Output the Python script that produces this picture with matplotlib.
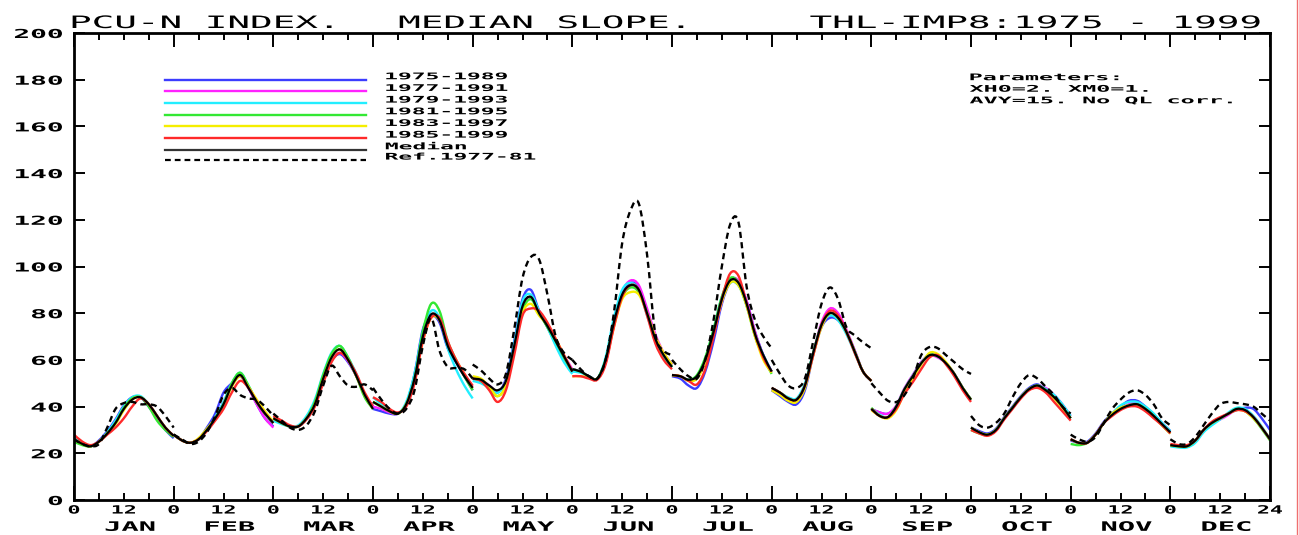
import numpy as np
import matplotlib
matplotlib.use("Agg")
import matplotlib.pyplot as plt
import matplotlib.patheffects as pe
from matplotlib.transforms import Affine2D
from matplotlib.lines import Line2D
from matplotlib.path import Path
from matplotlib.patches import PathPatch

# ---------------- data ----------------
MONTHS = ["JAN", "FEB", "MAR", "APR", "MAY", "JUN",
          "JUL", "AUG", "SEP", "OCT", "NOV", "DEC"]
HOURS = [0, 2, 4, 6, 8, 10, 12, 14, 16, 18, 20, 22, 24]

SERIES_LABELS = ["1975-1989", "1977-1991", "1979-1993", "1981-1995",
                 "1983-1997", "1985-1999"]
SERIES_COLORS = ["#3c3cff", "#ff22ff", "#22eeff", "#33e833", "#f5ee00", "#ff2a2a"]

S1975 = [
    [26, 24, 23, 25.5, 29.5, 34.5, 40.5, 44, 44, 40, 35, 30, 26.5],
    [28, 25.5, 24.5, 26, 31, 37, 46, 50, 53, 48, 41, 35, 31.5],
    [35, 33, 31.5, 31.5, 35, 41, 51, 59.5, 62.5, 59, 53, 45, 40],
    [39, 38, 37, 37, 41, 54, 73, 79, 76, 65, 59, 53, 47],
    [52, 51, 49, 46, 52, 68, 86, 90, 81, 74, 67, 61, 55],
    [56, 55, 53, 52, 59, 75, 88, 93, 91, 81, 70, 62, 58],
    [53, 52, 49, 48, 55, 68, 84, 93, 92, 85, 72, 62, 55],
    [47, 44.5, 42, 41, 47, 62, 74, 78, 77, 72, 64, 55, 51],
    [39, 37.5, 37, 40, 47.5, 53.5, 59, 62, 61.5, 58.5, 54, 48, 43],
    [31, 29.5, 28.5, 30.5, 35.5, 40, 44.5, 48, 49.5, 47, 44, 40, 35],
    [25.5, 24.5, 25, 28.5, 33.5, 37, 40, 42.5, 42.5, 40, 36.5, 33, 29.5],
    [23.5, 23, 23, 25.5, 30, 33, 35, 37, 38.5, 39.5, 39, 35, 30],
]
S1977 = [
    [26, 24, 23, 25, 28.5, 33.5, 39.5, 43.5, 44, 41, 36, 31, 27.5],
    [28, 25.5, 24.5, 26, 30, 35, 42, 49, 53, 48, 41, 35, 31],
    [35, 33, 31.5, 31.5, 35, 41, 51, 60, 63, 59.5, 53, 45, 40.5],
    [40, 39, 37.5, 37, 41, 52, 70, 79, 77, 67, 60, 54, 48.5],
    [52, 51.5, 49, 46.5, 51, 66, 83, 86.5, 81, 75, 68, 62, 56],
    [56, 55, 53, 52, 59, 75, 89, 94, 92, 82, 71, 63, 58],
    [53.5, 53, 51.5, 52.5, 59, 71, 85, 94, 94, 85, 72, 62, 55],
    [48, 46, 43.5, 43, 49, 63, 76, 82, 80, 73, 64, 55, 51],
    [39, 37.5, 37, 40.5, 48, 53.5, 59, 62, 61, 58.5, 54, 48, 43],
    [31, 29, 28, 30, 35, 39.5, 44, 47.5, 49, 48, 45, 41, 36],
    [26, 24.5, 24.5, 28, 33, 36.5, 39, 41, 41.5, 39.5, 36, 32.5, 29],
    [23.5, 23, 23, 25.5, 30, 33, 34.5, 36.5, 39, 38.5, 35.5, 31, 26],
]
S1979 = [
    [27.5, 24.5, 23, 25, 29, 34, 40, 44, 44.5, 41, 36, 31, 27.5],
    [28, 25.5, 24.5, 26, 30, 35.5, 42, 50, 54.5, 49, 42, 37, 33],
    [34, 32.5, 31.5, 32, 36, 43, 54, 63, 66, 61, 54, 45, 39],
    [44, 41, 38.5, 37, 42, 54, 72, 81, 78, 65, 56, 49, 43.5],
    [51, 50, 48, 46, 51, 67, 85, 88, 81, 74, 66, 59, 54],
    [55, 54.5, 53, 52, 61, 78, 90, 93, 90, 79, 69, 61, 57],
    [53.5, 53, 51.5, 53, 60.5, 73, 87, 93, 92, 83, 71, 62, 55],
    [48, 46, 44, 43.5, 50, 63, 75, 79, 77, 71, 63, 55, 51],
    [39, 36.5, 35.5, 40, 47.5, 53, 58.5, 62.5, 61.5, 58.5, 54, 48, 43],
    [31, 29, 28, 30, 35, 39.5, 44, 47.5, 49, 47.5, 45, 41, 36],
    [26, 24.5, 24.5, 28, 33, 37, 40.5, 42, 42, 40, 37, 33, 29.5],
    [23, 22.5, 22.5, 24.5, 29, 32, 34.5, 37.5, 39.5, 39, 36, 31.5, 26],
]
S1981 = [
    [25, 23.5, 23, 25, 28.5, 33, 39.5, 43.5, 44, 40, 34, 30, 27],
    [28, 25.5, 24.5, 26, 30, 35, 41, 50, 54.5, 49, 42, 37, 33],
    [35, 33, 31.5, 31.5, 35, 42, 53.5, 62.5, 66, 61, 53, 44, 39],
    [42, 40, 38, 37, 41, 52, 72, 84, 81, 68, 60, 53, 47],
    [52, 51, 47.5, 44.5, 49, 64, 81, 86, 80, 74, 68, 61, 55],
    [56, 55, 53, 52, 60, 75, 87, 91, 89, 80, 69, 62, 57],
    [53.5, 53, 51.5, 53.5, 61, 73, 87, 95, 93, 83, 70, 61, 54],
    [48, 46, 43.5, 43, 49, 63, 75, 80, 78, 72, 63.5, 55, 51],
    [39.5, 36, 35.5, 40, 47.5, 53, 58.5, 62, 61.5, 58.5, 53.5, 48, 43],
    [30, 28.5, 28, 30, 35, 39.5, 44, 47.5, 49, 47, 44, 40, 35],
    [24, 23.5, 24.5, 28, 33, 36.5, 39, 40.5, 41, 39, 36, 32, 28.5],
    [23.5, 23, 23, 25.5, 30, 33, 35, 37, 39, 38, 35, 30.5, 25.5],
]
S1983 = [
    [26, 24, 23, 25, 28.5, 32.5, 38.5, 43, 44, 41, 36, 31, 27.5],
    [28, 25.5, 24.5, 26.5, 30.5, 35, 40.5, 48.5, 53, 48.5, 43, 38, 33.5],
    [35, 33, 31.5, 31.5, 35, 41, 52, 61, 64.5, 60, 53, 45, 39],
    [42, 40, 38, 37, 41, 51, 68, 78, 77, 67, 60, 54, 48],
    [53, 52, 48.5, 44.5, 49, 64, 80, 84, 79, 75, 69, 62, 55],
    [53, 53, 52.5, 52, 59, 74, 86, 89, 88, 80, 70, 63, 58],
    [53.5, 53, 51, 52, 59, 71, 85, 93, 92, 83, 70, 60, 54.5],
    [47, 45, 42.5, 42, 48, 62, 74, 80, 78, 72, 63.5, 55, 51],
    [38.5, 36, 35, 38.5, 46, 52, 58, 63, 62.5, 59, 54, 48, 43],
    [31, 29, 28, 30, 35, 39.5, 44, 47.5, 48.5, 46.5, 43.5, 39.5, 35],
    [26, 24.5, 24.5, 28, 33, 37, 39.5, 40.5, 40.5, 38.5, 35.5, 32, 28.5],
    [23.5, 23, 23, 25.5, 30, 33, 35, 37, 38.5, 38, 35, 31, 26],
]
S1985 = [
    [28, 25, 23.5, 25, 28, 31, 35, 40, 43.5, 41, 36, 31, 27.5],
    [28, 25.5, 24.5, 26, 29.5, 34, 39, 46, 51, 48, 42, 37, 33],
    [36, 34, 32, 31.5, 34.5, 40, 50, 59, 63, 60, 54, 46, 40],
    [44, 42, 39, 37.5, 40, 50, 68, 78, 78, 68, 60, 54, 49],
    [52, 51, 47, 42, 47, 62, 79, 82, 81, 76, 69, 62, 55],
    [53, 53, 52, 51.5, 58, 74, 87, 92, 90, 79, 67, 60, 56],
    [53.5, 53, 51, 49.5, 56, 70, 86, 97, 96, 84, 71, 61, 55],
    [48, 46, 43.5, 43, 49, 62, 75, 81, 79, 72, 63, 55, 51],
    [39, 36, 35.5, 39, 45.5, 50.5, 56, 61, 62, 58, 53, 47, 42],
    [30, 28.5, 27.5, 29.5, 34.5, 39, 43.5, 47, 48, 46, 42, 38, 34],
    [26, 24.5, 24.5, 28, 33, 36, 38.5, 40, 40, 38, 35, 32, 28.5],
    [24, 23.5, 23.5, 25.5, 30, 33.5, 35.5, 37, 38.5, 38, 35.5, 31, 26],
]
MEDIAN = [
    [26, 24, 23, 25, 28.5, 33, 39, 43, 44, 41, 36, 31, 27.5],
    [28, 25.5, 24.5, 26, 30, 35, 41, 49, 53.5, 48, 42, 37, 33],
    [35, 33, 31.5, 31.5, 35, 41, 52, 61, 64.5, 60, 53, 45, 39],
    [42, 40, 38, 37, 41, 52, 70, 79.5, 77, 66, 59, 53, 48],
    [52, 51.5, 49, 47, 51, 66, 83, 87, 80, 74.5, 68, 61.5, 55],
    [56, 55, 53, 52, 60, 76, 88, 92, 90, 80, 69, 62, 57],
    [53.5, 53, 51.5, 53, 60, 72, 86, 94, 93, 84, 71, 62, 55],
    [48, 46, 43.5, 43, 49, 63, 75, 80, 78, 72, 63.5, 55, 51],
    [39, 36, 35.5, 40, 47.5, 53, 58.5, 62, 61.5, 58.5, 54, 48, 43],
    [31, 29, 28, 30, 35, 39.5, 44, 47.5, 49, 47, 44, 40, 35],
    [26, 24.5, 24.5, 28, 33, 36.5, 39, 40.5, 41, 39, 36, 32.5, 29],
    [23.5, 23, 23, 25.5, 30, 33, 35, 37, 39, 38.5, 35.5, 31, 26],
]
REF = [
    [26, 24, 23, 24, 31, 39, 41.5, 42, 41, 41, 40, 36, 31],
    [28, 26, 24, 25, 29, 36, 45, 48, 45, 43.5, 43, 40, 36],
    [37, 34, 31, 30, 32, 38, 49, 57.5, 53, 49, 48.5, 49.5, 47],
    [48, 43, 39, 37, 39, 47, 66, 78, 64, 57, 56.5, 56, 52],
    [58, 55.5, 52, 49.5, 54, 73, 95, 104, 103, 88, 70, 63, 60],
    [60, 56, 53, 52, 60, 80, 110, 124, 127, 105, 71, 64, 62],
    [60, 56, 53, 52, 60, 77, 100, 118, 119, 91, 77, 70, 65],
    [60, 54, 49, 48, 52, 68, 84, 91, 86, 74, 70.5, 67.5, 65],
    [50, 46, 42.5, 42, 45, 52, 62, 65.5, 65, 62, 59, 56, 54],
    [36, 32, 31, 33, 37, 44, 50, 53.5, 52, 48.5, 45, 40, 37],
    [28, 26, 25, 27, 33, 39, 43, 46, 47, 45, 41, 35, 32],
    [26, 24, 24, 27, 32, 37, 41, 42, 41.5, 41, 40, 37, 34],
]
SERIES = [S1975, S1977, S1979, S1981, S1983, S1985]

TITLE_LEFT = "PCU-N INDEX."
TITLE_MID = "MEDIAN SLOPE."
TITLE_RIGHT = "THL-IMP8:1975 - 1999"
PARAM_LINES = ["Parameters:", "XH0=2. XM0=1.", "AVY=15. No QL corr."]
YTICKS = list(range(0, 201, 20))


# --------------- helpers ---------------
class Stretch(pe.AbstractPathEffect):
    """Horizontally widen rendered text (the reference uses a very wide font)."""

    def __init__(self, sx, anchor="left"):
        super().__init__()
        self.sx = sx
        self.anchor = anchor

    def draw_path(self, renderer, gc, tpath, affine, rgbFace=None):
        ext = tpath.get_extents()
        if self.anchor == "center":
            cx = 0.5 * (ext.x0 + ext.x1)
        elif self.anchor == "right":
            cx = ext.x1
        else:
            cx = ext.x0
        t = Affine2D().translate(-cx, 0).scale(self.sx, 1.0).translate(cx, 0)
        renderer.draw_path(gc, tpath, t + affine, rgbFace)


def smooth_curve(ax, x, y, **kw):
    """Draw a smooth (Catmull-Rom / Bezier) curve passing through the data points."""
    x = np.asarray(x, float)
    y = np.asarray(y, float)
    p = np.column_stack([x, y])
    pe_ = np.vstack([p[0], p, p[-1]])
    verts = [p[0]]
    codes = [Path.MOVETO]
    for i in range(len(p) - 1):
        p0, p1, p2, p3 = pe_[i], pe_[i + 1], pe_[i + 2], pe_[i + 3]
        c1 = p1 + (p2 - p0) / 6.0
        c2 = p2 - (p3 - p1) / 6.0
        verts += [c1, c2, p2]
        codes += [Path.CURVE4] * 3
    patch = PathPatch(Path(verts, codes), fill=False, transform=ax.transData, **kw)
    ax.add_patch(patch)
    return patch


plt.rcParams["font.family"] = ["DejaVu Sans Mono", "DejaVu Sans"]

W, H = 1299, 535
fig = plt.figure(figsize=(W / 100, H / 100), dpi=100)
ax = fig.add_axes([74 / W, 1 - 500 / H, (1270 - 74) / W, (500 - 33) / H])

# --------------- curves ---------------
for m in range(12):
    x = [m * 24 + h for h in HOURS]
    for s, col in zip(SERIES, SERIES_COLORS):
        smooth_curve(ax, x, s[m], edgecolor=col, lw=1.7, zorder=2)
    smooth_curve(ax, x, MEDIAN[m], edgecolor="black", lw=1.6, zorder=3)
    smooth_curve(ax, x, REF[m], edgecolor="black", lw=1.7,
                 linestyle=(0, (2.6, 1.8)), zorder=4)

# --------------- legend (hand placed like the original) ---------------
leg_styles = [dict(color=c, lw=1.7) for c in SERIES_COLORS] + [
    dict(color="#333333", lw=1.6), dict(color="black", lw=1.6, dashes=(2.6, 1.8))]
leg_labels = SERIES_LABELS + ["Median", "Ref.1977-81"]
for i, (sty, lab) in enumerate(zip(leg_styles, leg_labels)):
    yy = 180 - 5 * i if i < 7 else 145.6
    ax.add_line(Line2D([22, 70.3], [yy, yy], **sty))
    t = ax.text(75, yy + 0.2, lab, fontsize=6.6, fontweight="bold",
                ha="left", va="baseline")
    t.set_path_effects([Stretch(2.5, "left")])

for i, line in enumerate(PARAM_LINES):
    t = ax.text(215.7, 179.8 - 4.95 * i, line, fontsize=6.6, fontweight="bold",
                ha="left", va="baseline")
    t.set_path_effects([Stretch(2.55, "left")])

# --------------- axes ---------------
ax.set_xlim(0, 288)
ax.set_ylim(0, 200)
for sp in ax.spines.values():
    sp.set_linewidth(2.0)

major_x = [m * 24 for m in range(13)]
minor_x = [m * 24 + h for m in range(12) for h in (6, 12, 18)]
ax.set_xticks(major_x)
ax.set_xticklabels(["0"] * 12 + ["24"])
ax.set_xticks(minor_x, minor=True)
ax.set_xticklabels(["12" if (v % 24) == 12 else "" for v in minor_x], minor=True)
ax.set_yticks(YTICKS)
ax.set_yticklabels([str(v) for v in YTICKS])

ax.tick_params(axis="both", which="both", direction="in", top=True, right=True,
               width=1.4, color="black")
ax.tick_params(axis="x", which="major", length=10, pad=4, labelsize=8.2)
ax.tick_params(axis="x", which="minor", length=5, pad=4, labelsize=8.2)
ax.tick_params(axis="y", which="major", length=8, pad=8.0, labelsize=8.9)

for lbl in ax.get_xticklabels() + ax.get_xticklabels(minor=True):
    lbl.set_fontweight("bold")
    lbl.set_path_effects([Stretch(1.9, "center")])
for lbl in ax.get_yticklabels():
    lbl.set_fontweight("bold")
    lbl.set_path_effects([Stretch(2.25, "right")])

for m, name in enumerate(MONTHS):
    t = ax.text(m * 24 + 13.5, -0.066, name, transform=ax.get_xaxis_transform(),
                ha="center", va="baseline", fontsize=9.4, fontweight="bold")
    t.set_path_effects([Stretch(2.2, "center")])

# --------------- title ---------------
ty = 1 - 28 / H
for txt, xpos, ha, anc in [(TITLE_LEFT, 71 / W, "left", "left"),
                           (TITLE_MID, 399 / W, "left", "left"),
                           (TITLE_RIGHT, 1260 / W, "right", "right")]:
    t = fig.text(xpos, ty, txt, fontsize=12.3, ha=ha, va="baseline")
    t.set_path_effects([Stretch(2.2, anc)])

# thin red frame line at the right edge of the page
fig.add_artist(Line2D([1297 / W, 1297 / W], [0, 1], transform=fig.transFigure,
                      color="#f07070", lw=1.0))

fig.savefig("out.png", dpi=100)
